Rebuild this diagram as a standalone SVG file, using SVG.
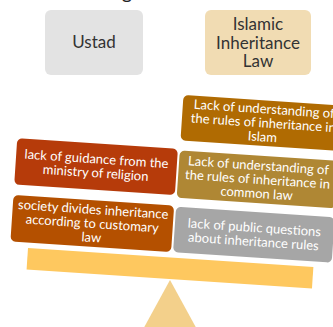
<svg xmlns="http://www.w3.org/2000/svg" width="333" height="327" viewBox="0 0 333 327">
<style>
.t{font-family:Lato,"Open Sans","DejaVu Sans",sans-serif;text-anchor:middle}
.hd{font-size:17px;fill:#333}
.bx{font-size:13px;fill:#fff}
</style>
<rect width="333" height="327" fill="#fff"/>
<text class="t" x="127" y="-1" font-size="20" fill="#222">g</text>
<g id="ustad">
<rect x="45" y="10" width="98" height="65" rx="6" fill="#e3e3e3"/>
<text class="t hd" x="94" y="48">Ustad</text>
</g>
<g id="islamic-law">
<rect x="205" y="10" width="106" height="65" rx="6" fill="#f1dcb3"/>
<text class="t hd" x="258" y="30">Islamic</text>
<text class="t hd" x="258" y="49">Inheritance</text>
<text class="t hd" x="258" y="67">Law</text>
</g>
<g id="fulcrum">
<polygon points="170,280 141,333 199,333" fill="#f3d08b"/>
</g>
<g transform="rotate(3.8 170 268)">
<g id="beam">
<rect x="27" y="257.5" width="286" height="21.5" fill="#fec85f"/>
</g>
<g id="box-islam">
<rect x="172" y="94.5" width="163" height="45.5" rx="5" fill="#b06b02"/>
<text class="t bx" x="253.5" y="107.5">Lack of understanding of</text>
<text class="t bx" x="253.5" y="121.5">the rules of inheritance in</text>
<text class="t bx" x="253.5" y="135.5">Islam</text>
</g>
<g id="box-guidance">
<rect x="9" y="148.5" width="161" height="46.5" rx="5" fill="#b63b0a"/>
<text class="t bx" x="89.5" y="168.5">lack of guidance from the</text>
<text class="t bx" x="89.5" y="182.5">ministry of religion</text>
</g>
<g id="box-common">
<rect x="172" y="150" width="159" height="47.5" rx="5" fill="#af8734"/>
<text class="t bx" x="251.5" y="164.3">Lack of understanding of</text>
<text class="t bx" x="251.5" y="178.3">the rules of inheritance in</text>
<text class="t bx" x="251.5" y="192.3">common law</text>
</g>
<g id="box-society">
<rect x="9" y="205.5" width="161" height="46.5" rx="5" fill="#b45000"/>
<text class="t bx" x="89.5" y="219.2">society divides inheritance</text>
<text class="t bx" x="89.5" y="233.2">according to customary</text>
<text class="t bx" x="89.5" y="247.2">law</text>
</g>
<g id="box-public">
<rect x="172" y="206.5" width="159" height="45.5" rx="5" fill="#a6a6a6"/>
<text class="t bx" x="251.5" y="226.5">lack of public questions</text>
<text class="t bx" x="251.5" y="240.5">about inheritance rules</text>
</g>
</g>
</svg>
